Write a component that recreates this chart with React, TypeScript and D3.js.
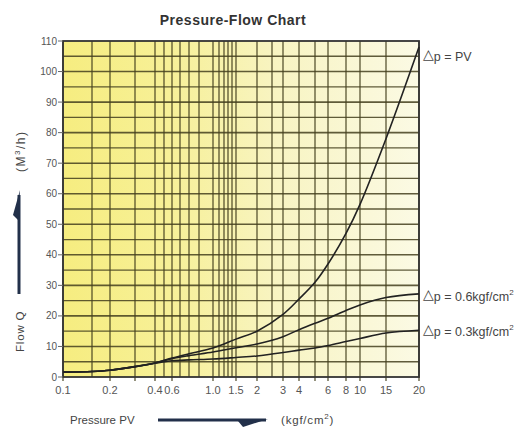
import * as d3 from 'd3';
import { useEffect, useRef } from 'react';

// x axis of the original is a hand-made, not quite logarithmic, pressure scale
const GRID_X = [0.1, 0.15, 0.2, 0.3, 0.4, 0.5, 0.6, 0.7, 0.8, 0.9, 1.0, 1.1, 1.2, 1.3, 1.4, 1.5, 2, 2.5, 3, 4, 5, 6, 8, 10, 15, 20];
const GRID_X_PX = [63, 92, 110, 135, 155, 164, 172, 180, 189, 199, 213, 219, 224, 228, 232, 236, 257, 272, 283, 299, 315, 328, 346, 360, 386, 419];

const X_TICKS = [0.1, 0.2, 0.4, 0.6, 1.0, 1.5, 2, 3, 4, 6, 8, 10, 15, 20];
const X_TICK_LABELS = ['0.1', '0.2', '0.4', '0.6', '1.0', '1.5', '2', '3', '4', '6', '8', '10', '15', '20'];
const Y_TICKS = [0, 10, 20, 30, 40, 50, 60, 70, 80, 90, 100, 110];

const PV = [0.1, 0.15, 0.2, 0.3, 0.4, 0.6, 0.8, 1.0, 1.5, 2, 3, 4, 5, 6, 8, 10, 15, 20];
const FLOW_PV = [1.6, 1.8, 2.2, 3.4, 4.6, 6.2, 7.6, 9.5, 12.4, 15, 20.5, 25.5, 31, 37, 47, 56.5, 78, 108];
const FLOW_06 = [1.6, 1.8, 2.2, 3.4, 4.6, 6, 7, 8.2, 9.6, 10.8, 13.2, 15.5, 17.6, 19.2, 21.8, 23.6, 26, 27.2];
const FLOW_03 = [1.6, 1.8, 2.2, 3.4, 4.5, 5.3, 5.6, 5.9, 6.4, 6.9, 8, 8.8, 9.5, 10.3, 11.6, 12.6, 14.4, 15.3];

const SERIES = [
  { name: 'PV', values: FLOW_PV, label: 'PV', sup: '', labelY: 61 },
  { name: '0.6', values: FLOW_06, label: '0.6kgf/cm', sup: '2', labelY: 301 },
  { name: '0.3', values: FLOW_03, label: '0.3kgf/cm', sup: '2', labelY: 336 },
];

export default function App() {
  const svgRef = useRef<SVGSVGElement>(null);

  useEffect(() => {
    if (!svgRef.current) { return; }
    const svg = d3.select(svgRef.current);
    svg.selectAll('*').remove();

    const left = 63;
    const right = 419;
    const top = 41;
    const bottom = 377;

    const x = d3.scaleLinear().domain(GRID_X).range(GRID_X_PX);
    const y = d3.scaleLinear().domain([0, 110]).range([bottom, top]);

    const font = '"Liberation Sans", Arial, sans-serif';

    // background gradient
    const defs = svg.append('defs');
    const grad = defs.append('linearGradient').attr('id', 'bg').attr('x1', '0').attr('x2', '1').attr('y1', '0').attr('y2', '0');
    grad.append('stop').attr('offset', '0%').attr('stop-color', '#f6ed80');
    grad.append('stop').attr('offset', '30%').attr('stop-color', '#f7f097');
    grad.append('stop').attr('offset', '60%').attr('stop-color', '#f8f4c2');
    grad.append('stop').attr('offset', '100%').attr('stop-color', '#fbfae4');

    svg.append('rect')
      .attr('x', left).attr('y', top)
      .attr('width', right - left).attr('height', bottom - top)
      .attr('fill', 'url(#bg)');

    const gridColor = '#45401f';

    // horizontal grid every 5
    d3.range(5, 110, 5).forEach((v) => {
      svg.append('line')
        .attr('x1', left).attr('x2', right)
        .attr('y1', y(v)).attr('y2', y(v))
        .attr('stroke', gridColor)
        .attr('stroke-width', v % 10 === 0 ? 1.6 : 1.3)
        .attr('opacity', 0.85);
    });

    // vertical grid
    GRID_X.forEach((v) => {
      const major = X_TICKS.includes(v) || v === 0.3 || v === 5;
      svg.append('line')
        .attr('x1', x(v)).attr('x2', x(v))
        .attr('y1', top).attr('y2', major ? bottom + 4 : bottom)
        .attr('stroke', gridColor)
        .attr('stroke-width', 1.35)
        .attr('opacity', 0.85);
    });

    // border
    svg.append('rect')
      .attr('x', left).attr('y', top)
      .attr('width', right - left).attr('height', bottom - top)
      .attr('fill', 'none')
      .attr('stroke', '#333')
      .attr('stroke-width', 1.8);

    // y ticks
    Y_TICKS.forEach((v) => {
      svg.append('line')
        .attr('x1', left - 5).attr('x2', left)
        .attr('y1', y(v)).attr('y2', y(v))
        .attr('stroke', '#666').attr('stroke-width', 1);
      svg.append('text')
        .attr('x', left - 6).attr('y', y(v) + 3.5)
        .attr('text-anchor', 'end')
        .attr('font-family', font).attr('font-size', 10)
        .attr('fill', '#555')
        .text(String(v));
    });

    // x tick labels
    X_TICKS.forEach((v, i) => {
      svg.append('text')
        .attr('x', x(v)).attr('y', bottom + 17)
        .attr('text-anchor', 'middle')
        .attr('font-family', font).attr('font-size', 11)
        .attr('fill', '#555')
        .text(X_TICK_LABELS[i]);
    });

    // curves
    const line = d3.line<number>()
      .x((_, i) => x(PV[i]))
      .y((d) => y(d))
      .curve(d3.curveCatmullRom.alpha(0.5));

    SERIES.forEach((s) => {
      svg.append('path')
        .attr('d', line(s.values))
        .attr('fill', 'none')
        .attr('stroke', '#222')
        .attr('stroke-width', 1.6);

      const t = svg.append('text')
        .attr('x', right + 4).attr('y', s.labelY)
        .attr('font-family', font).attr('font-size', 12.5)
        .attr('fill', '#444');
      t.append('tspan').attr('font-family', '"DejaVu Sans", sans-serif').attr('font-size', 14).attr('dy', -2).text('\u25B3');
      t.append('tspan').attr('dy', 2).text(`p = ${s.label}`);
      if (s.sup) {
        t.append('tspan').attr('font-size', 8).attr('dy', -6).text(s.sup);
      }
    });

    // title
    svg.append('text')
      .attr('x', 233).attr('y', 25)
      .attr('text-anchor', 'middle')
      .attr('font-family', font).attr('font-size', 14).attr('font-weight', 'bold')
      .attr('letter-spacing', 0.5)
      .attr('fill', '#333')
      .text('Pressure-Flow Chart');

    // x axis title with arrow
    svg.append('text')
      .attr('x', 70).attr('y', 424)
      .attr('font-family', font).attr('font-size', 11.5)
      .attr('fill', '#444')
      .text('Pressure   PV');
    svg.append('line')
      .attr('x1', 158).attr('x2', 266).attr('y1', 420).attr('y2', 420)
      .attr('stroke', '#22304a').attr('stroke-width', 3);
    svg.append('path')
      .attr('d', 'M268,419 L238,421 L243,427 Z')
      .attr('fill', '#22304a');
    const xu = svg.append('text')
      .attr('x', 281).attr('y', 424)
      .attr('font-family', font).attr('font-size', 11.5)
      .attr('letter-spacing', 0.8)
      .attr('fill', '#444');
    xu.append('tspan').text('(kgf/cm');
    xu.append('tspan').attr('font-size', 8).attr('dy', -5).text('2');
    xu.append('tspan').attr('dy', 5).text(')');

    // y axis title with arrow
    svg.append('text')
      .attr('transform', 'translate(24,352) rotate(-90)')
      .attr('font-family', font).attr('font-size', 11.5)
      .attr('letter-spacing', 0.8)
      .attr('fill', '#444')
      .text('Flow   Q');
    svg.append('line')
      .attr('x1', 19).attr('x2', 19).attr('y1', 294).attr('y2', 195)
      .attr('stroke', '#22304a').attr('stroke-width', 3);
    svg.append('path')
      .attr('d', 'M20,190 L18,220 L13,215 Z')
      .attr('fill', '#22304a');
    const yu = svg.append('text')
      .attr('transform', 'translate(25,172) rotate(-90)')
      .attr('font-family', font).attr('font-size', 12)
      .attr('letter-spacing', 1.5)
      .attr('fill', '#444');
    yu.append('tspan').text('(M');
    yu.append('tspan').attr('font-size', 8).attr('dy', -5).text('3');
    yu.append('tspan').attr('dy', 5).text('/h)');
  }, []);

  return (
    <div style={{ position: 'absolute', left: 0, top: 0 }}>
      <svg ref={svgRef} width={531} height={434} style={{ display: 'block', background: '#fff' }} />
    </div>
  );
}
